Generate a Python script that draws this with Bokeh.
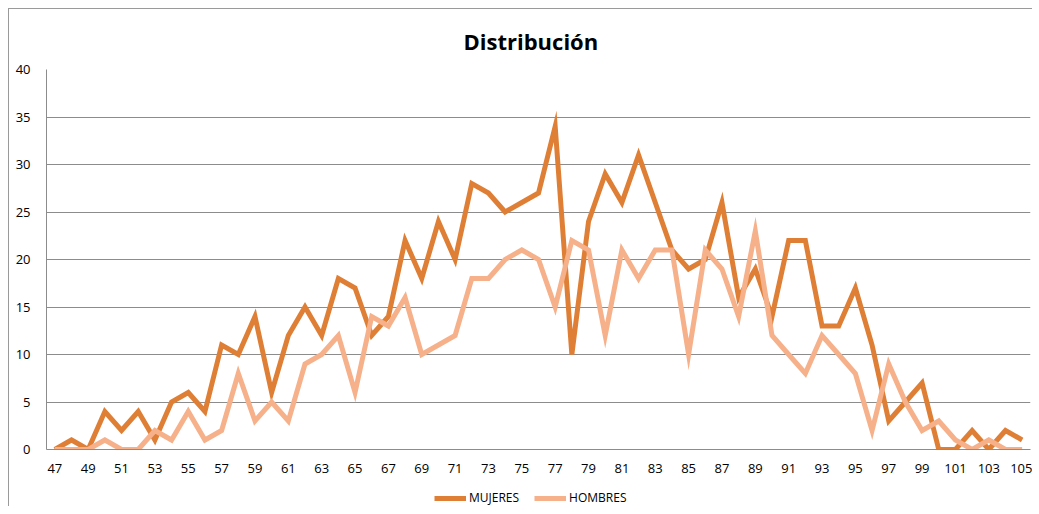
from bokeh.plotting import figure
from bokeh.layouts import column
from bokeh.models import Range1d, FixedTicker, Legend, LegendItem, ColumnDataSource
from bokeh.embed import file_html
from bokeh.resources import INLINE

ages = list(range(47, 106))
mujeres = [0, 1, 0, 4, 2, 4, 1, 5, 6, 4,
           11, 10, 14, 6, 12, 15, 12, 18, 17, 12,
           14, 22, 18, 24, 20, 28, 27, 25, 26, 27,
           34, 10, 24, 29, 26, 31, 26, 21, 19, 20,
           26, 16, 19, 14, 22, 22, 13, 13, 17, 11,
           3, 5, 7, 0, 0, 2, 0, 2, 1]
hombres = [0, 0, 0, 1, 0, 0, 2, 1, 4, 1,
           2, 8, 3, 5, 3, 9, 10, 12, 6, 14,
           13, 16, 10, 11, 12, 18, 18, 20, 21, 20,
           15, 22, 21, 12, 21, 18, 21, 21, 10, 21,
           19, 14, 23, 12, 10, 8, 12, 10, 8, 2,
           9, 5, 2, 3, 1, 0, 1, 0, 0]
series_names = ["MUJERES", "HOMBRES"]
series_colors = ["#DF7F36", "#F6B08A"]
x_ticks = list(range(47, 106, 2))
y_ticks = [0, 5, 10, 15, 20, 25, 30, 35, 40]

FONT = "Open Sans"
src = ColumnDataSource(dict(x=ages, m=mujeres, h=hombres))

p = figure(width=1023, height=477, output_backend="svg", toolbar_location=None,
           x_range=Range1d(46.5, 105.5), y_range=Range1d(0, 40),
           min_border_left=37, min_border_right=2, min_border_top=60, min_border_bottom=37,
           title="Distribución")
p.title.align = "left"
p.title.offset = 417
p.title.text_font = FONT
p.title.text_font_size = "22px"
p.title.text_font_style = "bold"
p.title.text_color = "#000000"
p.title.standoff = 27
p.outline_line_color = None

p.line("x", "m", source=src, line_color=series_colors[0], line_width=5, line_join="miter")
p.line("x", "h", source=src, line_color=series_colors[1], line_width=5, line_join="miter")

p.xaxis.ticker = FixedTicker(ticks=x_ticks)
p.yaxis.ticker = FixedTicker(ticks=y_ticks)
for ax in (p.xaxis, p.yaxis):
    ax.major_tick_line_color = None
    ax.minor_tick_line_color = None
    ax.major_label_text_font = FONT
    ax.major_label_text_font_size = "13px"
    ax.major_label_text_color = "#000000"
    ax.axis_line_color = "#8c8c8c"
p.yaxis.major_label_standoff = 10
p.xaxis.major_label_standoff = 8
p.xgrid.grid_line_color = None
p.ygrid.grid_line_color = "#8c8c8c"
p.ygrid.grid_line_width = 1

# legend strip below the chart (its lines lie outside this strip's ranges; only the legend shows)
q = figure(width=1023, height=20, output_backend="svg", toolbar_location=None,
           x_range=Range1d(0, 1), y_range=Range1d(0, 1),
           min_border_left=0, min_border_right=0, min_border_top=0, min_border_bottom=0)
q.axis.visible = False
q.grid.grid_line_color = None
q.outline_line_color = None
lr1 = q.line("x", "m", source=src, line_color=series_colors[0], line_width=5)
lr2 = q.line("x", "h", source=src, line_color=series_colors[1], line_width=5)
items = [LegendItem(label=n, renderers=[r]) for n, r in zip(series_names, [lr1, lr2])]
legend = Legend(items=items, orientation="horizontal", location=(388, 0))
legend.label_text_font = FONT
legend.label_text_font_size = "12px"
legend.label_text_color = "#000000"
legend.glyph_width = 32
legend.glyph_height = 10
legend.spacing = 15
legend.label_standoff = 3
legend.border_line_color = None
legend.background_fill_alpha = 0
legend.margin = 0
legend.padding = 2
q.add_layout(legend)

lay = column(p, q, spacing=0, margin=(8, 0, 0, 8),
             styles={"border-left": "1px solid #9a9a9a", "border-top": "1px solid #9a9a9a"})

open("out.html", "w").write(file_html(lay, INLINE))
